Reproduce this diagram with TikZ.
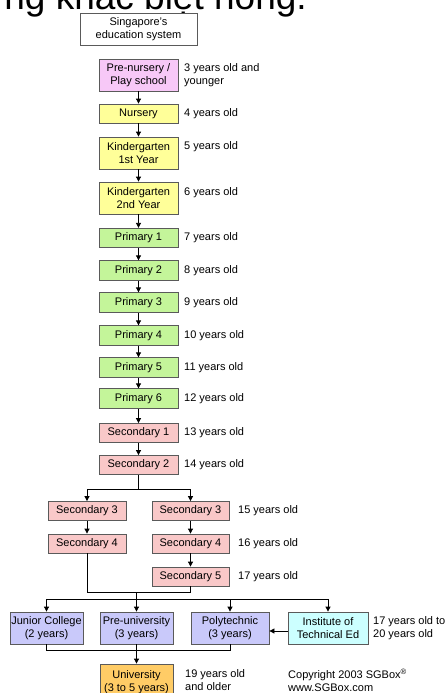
\documentclass[tikz,border=0pt]{standalone}
\usepackage{fontspec}
\setmainfont{Liberation Sans}
\usetikzlibrary{arrows.meta}
\definecolor{boxline}{HTML}{5A5A5A}
\definecolor{cPink}{HTML}{F7C8F7}
\definecolor{cYellow}{HTML}{FFFF99}
\definecolor{cGreen}{HTML}{C4F59A}
\definecolor{cRed}{HTML}{F9C8C8}
\definecolor{cLav}{HTML}{C9C9FA}
\definecolor{cCyan}{HTML}{CCFFFF}
\definecolor{cOrange}{HTML}{FFCC66}
\begin{document}
\begin{tikzpicture}[x=1pt,y=-1pt,
  box/.style={draw=boxline, line width=0.8pt, inner sep=0pt, align=center,
    font=\fontsize{11}{13}\selectfont},
  lbl/.style={anchor=west, inner sep=0pt, align=left,
    font=\fontsize{11}{13}\selectfont},
  arr/.style={-{Triangle[length=5pt,width=5pt]}, line width=0.8pt},
  ln/.style={line width=0.8pt}]
\useasboundingbox (0,0) rectangle (445,693);
\clip (0,0) rectangle (445,693);
\fill[white] (0,0) rectangle (445,693);

% cropped heading
\node[anchor=base east, inner sep=0pt, font=\fontsize{37}{39}\selectfont] (hdr) at (307,10) {những khác biệt nông.};

% main column
\node[box, fill=white, minimum width=117pt, minimum height=32pt] (title) at (138.5,29) {Singapore's\\education system};
\node[box, fill=cPink, minimum width=79pt, minimum height=32pt] (pn) at (138.5,75) {Pre-nursery /\\Play school};
\node[box, fill=cYellow, minimum width=79pt, minimum height=19pt] (nur) at (138.5,113.5) {Nursery};
\node[box, fill=cYellow, minimum width=79pt, minimum height=32pt] (k1) at (138.5,153) {Kindergarten\\1st Year};
\node[box, fill=cYellow, minimum width=79pt, minimum height=32pt] (k2) at (138.5,198) {Kindergarten\\2nd Year};
\node[box, fill=cGreen, minimum width=79pt, minimum height=19.5pt] (p1) at (138.5,238) {Primary 1};
\node[box, fill=cGreen, minimum width=79pt, minimum height=19.5pt] (p2) at (138.5,270.5) {Primary 2};
\node[box, fill=cGreen, minimum width=79pt, minimum height=19.5pt] (p3) at (138.5,302.5) {Primary 3};
\node[box, fill=cGreen, minimum width=79pt, minimum height=19.5pt] (p4) at (138.5,335.5) {Primary 4};
\node[box, fill=cGreen, minimum width=79pt, minimum height=19.5pt] (p5) at (138.5,367.5) {Primary 5};
\node[box, fill=cGreen, minimum width=79pt, minimum height=19.5pt] (p6) at (138.5,398.5) {Primary 6};
\node[box, fill=cRed, minimum width=79pt, minimum height=19pt] (s1) at (138.5,433) {Secondary 1};
\node[box, fill=cRed, minimum width=79pt, minimum height=19pt] (s2) at (138.5,465) {Secondary 2};

% secondary branches
\node[box, fill=cRed, minimum width=78pt, minimum height=19pt] (s3L) at (87,511) {Secondary 3};
\node[box, fill=cRed, minimum width=78pt, minimum height=19pt] (s4L) at (87,543.5) {Secondary 4};
\node[box, fill=cRed, minimum width=77pt, minimum height=19pt] (s3R) at (190.5,511) {Secondary 3};
\node[box, fill=cRed, minimum width=77pt, minimum height=19pt] (s4R) at (190.5,543.5) {Secondary 4};
\node[box, fill=cRed, minimum width=77pt, minimum height=19pt] (s5) at (190.5,576.5) {Secondary 5};

% post-secondary
\node[box, fill=cLav, minimum width=73pt, minimum height=32pt] (jc) at (46.5,628) {Junior College\\(2 years)};
\node[box, fill=cLav, minimum width=73pt, minimum height=32pt] (pu) at (136.5,628) {Pre-university\\(3 years)};
\node[box, fill=cLav, minimum width=78pt, minimum height=32pt] (poly) at (230,628) {Polytechnic\\(3 years)};
\node[box, fill=cCyan, minimum width=80pt, minimum height=32pt] (ite) at (328,628) {Institute of\\Technical Ed};
\node[box, fill=cOrange, minimum width=73pt, minimum height=36pt] (univ) at (136.5,682) {University\\(3 to 5 years)};

% age labels
\node[lbl] (a3) at (184,75.5) {3 years old and\\younger};
\node[lbl] (a4) at (184,113.5) {4 years old};
\node[lbl] (a5) at (184,147) {5 years old};
\node[lbl] (a6) at (184,193) {6 years old};
\node[lbl] (a7) at (184,238) {7 years old};
\node[lbl] (a8) at (184,270.5) {8 years old};
\node[lbl] (a9) at (184,302.5) {9 years old};
\node[lbl] (a10) at (184,335.5) {10 years old};
\node[lbl] (a11) at (184,367.5) {11 years old};
\node[lbl] (a12) at (184,398.5) {12 years old};
\node[lbl] (a13) at (184,433) {13 years old};
\node[lbl] (a14) at (184,465) {14 years old};
\node[lbl] (a15) at (238,511) {15 years old};
\node[lbl] (a16) at (238,543.5) {16 years old};
\node[lbl] (a17) at (238,576.5) {17 years old};
\node[lbl] (a1720) at (373,628) {17 years old to\\20 years old};
\node[lbl] (a19) at (185,680.5) {19 years old\\and older};
\node[lbl] (copy) at (288,680.5) {Copyright 2003 SGBox\textsuperscript{\textregistered}\\www.SGBox.com};

% connectors main column
\draw[arr] (pn) -- (nur);
\draw[arr] (nur) -- (k1);
\draw[arr] (k1) -- (k2);
\draw[arr] (k2) -- (p1);
\draw[arr] (p1) -- (p2);
\draw[arr] (p2) -- (p3);
\draw[arr] (p3) -- (p4);
\draw[arr] (p4) -- (p5);
\draw[arr] (p5) -- (p6);
\draw[arr] (p6) -- (s1);
\draw[arr] (s1) -- (s2);

% branching after secondary 2
\coordinate (br) at (138.5,489);
\draw[ln] (s2.south) -- (br);
\draw[arr] (br) -| (s3L.north);
\draw[arr] (br) -| (s3R.north);
\draw[arr] (s3L) -- (s4L);
\draw[arr] (s3R) -- (s4R);
\draw[arr] (s4R) -- (s5);

% merging into post-secondary
\coordinate (m1) at (0,592);
\coordinate (m2) at (0,599);
\draw[ln] (s4L.south) -- (s4L.south |- m1) -- (s5.south |- m1) -- (s5.south);
\draw[ln] (jc.north |- m2) -- (ite.north |- m2);
\draw[arr] (pu.north |- m1) -- (pu.north);
\draw[arr] (jc.north |- m2) -- (jc.north);
\draw[arr] (poly.north |- m2) -- (poly.north);
\draw[arr] (ite.north |- m2) -- (ite.north);
\draw[arr] ([yshift=-3pt]ite.west) -- ([yshift=-3pt]poly.east);

% to university
\coordinate (m3) at (0,650);
\draw[ln] (jc.south) -- (jc.south |- m3) -- (poly.south |- m3) -- (poly.south);
\draw[arr] (pu.south) -- (univ.north);
\end{tikzpicture}
\end{document}
